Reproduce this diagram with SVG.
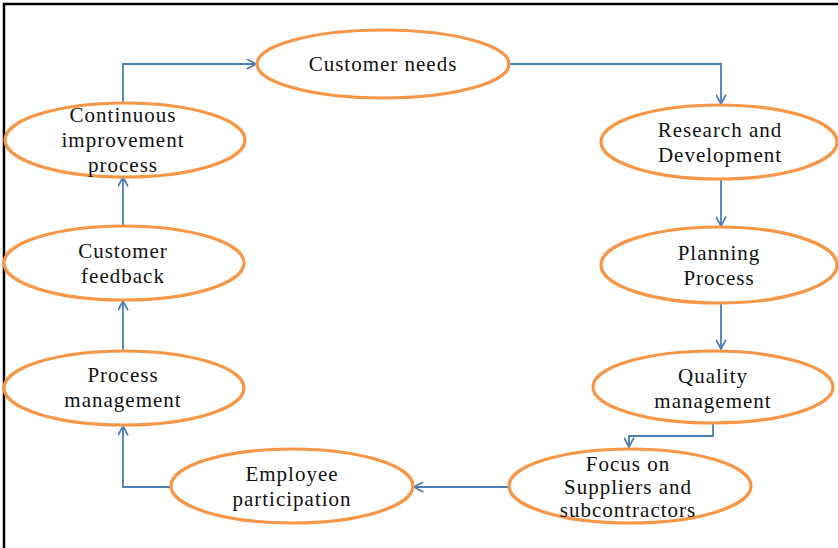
<svg xmlns="http://www.w3.org/2000/svg" width="838" height="548" viewBox="0 0 838 548">
<style>
.n ellipse{fill:#fff;stroke:#F79646;stroke-width:3.2}
.n text{font-family:'Liberation Serif',serif;font-size:21px;fill:#111;text-anchor:middle;letter-spacing:1px}
.c path{fill:none;stroke:#4A7EBB;stroke-width:1.8}
</style>
<defs>
<marker id="a" viewBox="0 0 10 10" refX="9.5" refY="5" markerWidth="11" markerHeight="11" markerUnits="userSpaceOnUse" orient="auto">
<path d="M1,0.5 L9.5,5 L1,9.5" fill="none" stroke="#4A7EBB" stroke-width="1.6"/>
</marker>
</defs>
<rect width="838" height="548" fill="#fff"/>
<path d="M4,548 V4 H838" fill="none" stroke="#000" stroke-width="2.5"/>
<g class="c">
<path d="M123,103 V64 H256" marker-end="url(#a)"/>
<path d="M510,64 H721 V104" marker-end="url(#a)"/>
<path d="M721,180 V226" marker-end="url(#a)"/>
<path d="M721,303 V349" marker-end="url(#a)"/>
<path d="M713,423 V436 H629 V447" marker-end="url(#a)"/>
<path d="M508,487 H414" marker-end="url(#a)"/>
<path d="M172,487 H123 V426" marker-end="url(#a)"/>
<path d="M123,350 V301" marker-end="url(#a)"/>
<path d="M123,227 V177" marker-end="url(#a)"/>
</g>
<g id="customer-needs" class="n"><ellipse cx="383" cy="64" rx="126" ry="34"/><text x="383" y="71">Customer needs</text></g>
<g id="research" class="n"><ellipse cx="719" cy="142" rx="118" ry="37"/><text x="720" y="137">Research and</text><text x="720" y="162">Development</text></g>
<g id="planning" class="n"><ellipse cx="719" cy="265" rx="118" ry="38"/><text x="719" y="260">Planning</text><text x="719" y="285">Process</text></g>
<g id="quality" class="n"><ellipse cx="713" cy="387" rx="120" ry="36"/><text x="713" y="383">Quality</text><text x="713" y="408">management</text></g>
<g id="focus" class="n"><ellipse cx="630" cy="486" rx="121" ry="37"/><text x="628" y="471">Focus on</text><text x="628" y="494">Suppliers and</text><text x="628" y="517">subcontractors</text></g>
<g id="employee" class="n"><ellipse cx="292" cy="486" rx="121" ry="37"/><text x="292" y="481">Employee</text><text x="292" y="506">participation</text></g>
<g id="process-mgmt" class="n"><ellipse cx="124" cy="388" rx="120" ry="37"/><text x="123" y="382">Process</text><text x="123" y="407">management</text></g>
<g id="feedback" class="n"><ellipse cx="124" cy="263" rx="120" ry="37"/><text x="123" y="258">Customer</text><text x="123" y="283">feedback</text></g>
<g id="continuous" class="n"><ellipse cx="125" cy="140" rx="120" ry="37"/><text x="123" y="122">Continuous</text><text x="123" y="147">improvement</text><text x="123" y="172">process</text></g>
</svg>
